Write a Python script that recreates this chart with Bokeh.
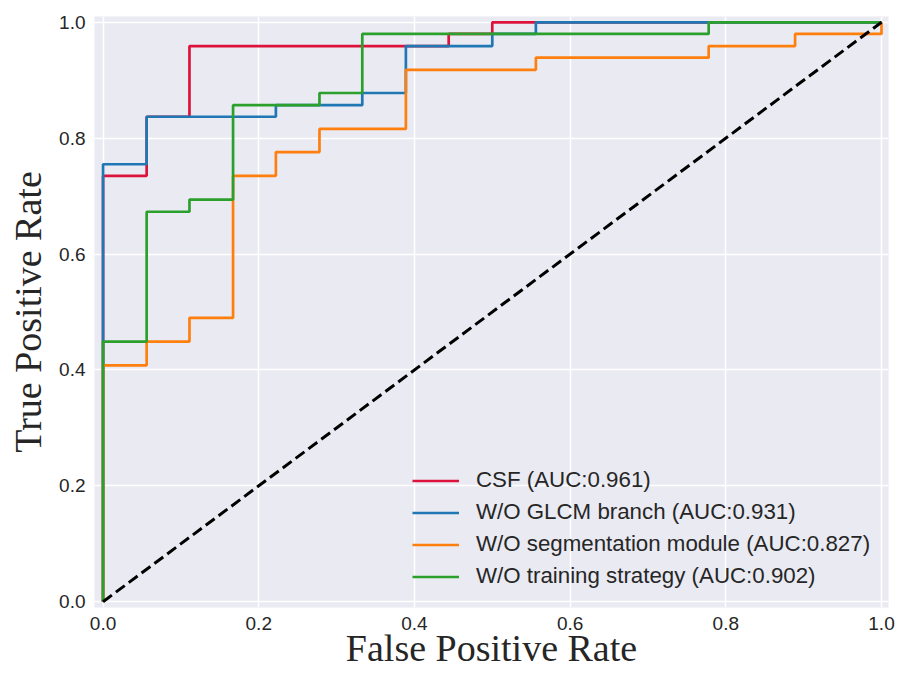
from bokeh.plotting import figure
from bokeh.models import Range1d, FixedTicker, PrintfTickFormatter, Legend, LegendItem
from bokeh.embed import file_html
from bokeh.resources import INLINE

# ---- data ----
csf_fpr = [0, 0, 0.056, 0.056, 0.111, 0.111, 0.444, 0.444, 0.5, 0.5, 1.0]
csf_tpr = [0, 0.735, 0.735, 0.837, 0.837, 0.959, 0.959, 0.980, 0.980, 1.0, 1.0]

glcm_fpr = [0, 0, 0.056, 0.056, 0.222, 0.222, 0.333, 0.333, 0.389, 0.389, 0.5, 0.5, 0.556, 0.556, 1.0]
glcm_tpr = [0, 0.755, 0.755, 0.837, 0.837, 0.857, 0.857, 0.878, 0.878, 0.959, 0.959, 0.980, 0.980, 1.0, 1.0]

seg_fpr = [0, 0, 0.056, 0.056, 0.111, 0.111, 0.167, 0.167, 0.222, 0.222, 0.278, 0.278,
           0.389, 0.389, 0.556, 0.556, 0.778, 0.778, 0.889, 0.889, 1.0, 1.0]
seg_tpr = [0, 0.408, 0.408, 0.449, 0.449, 0.490, 0.490, 0.735, 0.735, 0.776, 0.776, 0.816,
           0.816, 0.918, 0.918, 0.939, 0.939, 0.959, 0.959, 0.980, 0.980, 1.0]

train_fpr = [0, 0, 0.056, 0.056, 0.111, 0.111, 0.167, 0.167, 0.278, 0.278, 0.333, 0.333, 0.778, 0.778, 1.0]
train_tpr = [0, 0.449, 0.449, 0.673, 0.673, 0.694, 0.694, 0.857, 0.857, 0.878, 0.878, 0.980, 0.980, 1.0, 1.0]

diag_x = [0, 1]
diag_y = [0, 1]

series_names = ["CSF (AUC:0.961)", "W/O GLCM branch (AUC:0.931)",
                "W/O segmentation module (AUC:0.827)", "W/O training strategy (AUC:0.902)"]
series_colors = ["#DC143C", "#1f77b4", "#ff7f0e", "#2ca02c"]
tick_values = [0.0, 0.2, 0.4, 0.6, 0.8, 1.0]

TEXT = "#262626"

p = figure(width=897, height=673, output_backend="svg", toolbar_location=None,
           x_range=Range1d(-0.011, 1.009), y_range=Range1d(-0.01, 1.01),
           min_border_left=94, min_border_right=9, min_border_top=16, min_border_bottom=66)
p.background_fill_color = "#EAEAF2"
p.border_fill_color = "white"
p.outline_line_color = None

for ax in (p.xaxis[0], p.yaxis[0]):
    ax.ticker = FixedTicker(ticks=tick_values)
    ax.formatter = PrintfTickFormatter(format="%.1f")
    ax.axis_line_color = None
    ax.major_tick_line_color = None
    ax.minor_tick_line_color = None
    ax.major_tick_out = 0
    ax.major_tick_in = 0
    ax.major_label_text_font = "Liberation Sans"
    ax.major_label_text_font_size = "19px"
    ax.major_label_text_color = TEXT
    ax.axis_label_text_font = "Liberation Serif"
    ax.axis_label_text_font_size = "38px"
    ax.axis_label_text_font_style = "normal"
    ax.axis_label_text_color = TEXT

p.xaxis.major_label_standoff = 9
p.yaxis.major_label_standoff = 9
p.xaxis.axis_label = "False Positive Rate"
p.yaxis.axis_label = "True Positive Rate"
p.xaxis.axis_label_standoff = -6
p.yaxis.axis_label_standoff = 7

p.xgrid.ticker = FixedTicker(ticks=tick_values)
p.ygrid.ticker = FixedTicker(ticks=tick_values)
p.grid.grid_line_color = "white"
p.grid.grid_line_width = 1.5

lw = 2.7
r1 = p.line(csf_fpr, csf_tpr, line_color=series_colors[0], line_width=lw)
r2 = p.line(glcm_fpr, glcm_tpr, line_color=series_colors[1], line_width=lw)
r3 = p.line(seg_fpr, seg_tpr, line_color=series_colors[2], line_width=lw)
r4 = p.line(train_fpr, train_tpr, line_color=series_colors[3], line_width=lw)
p.line(diag_x, diag_y, line_color="black", line_width=3, line_dash="11 5")

legend = Legend(items=[LegendItem(label=n, renderers=[r]) for n, r in zip(series_names, [r1, r2, r3, r4])],
                location=(318, 18))
legend.background_fill_alpha = 0
legend.border_line_color = None
legend.padding = 0
legend.margin = 0
legend.spacing = 6
legend.glyph_width = 47
legend.glyph_height = 25
legend.label_height = 25
legend.label_standoff = 17
legend.label_text_font = "Liberation Sans"
legend.label_text_font_size = "22.3px"
legend.label_text_color = TEXT
p.add_layout(legend, "center")

open("out.html", "w").write(file_html(p, INLINE))
